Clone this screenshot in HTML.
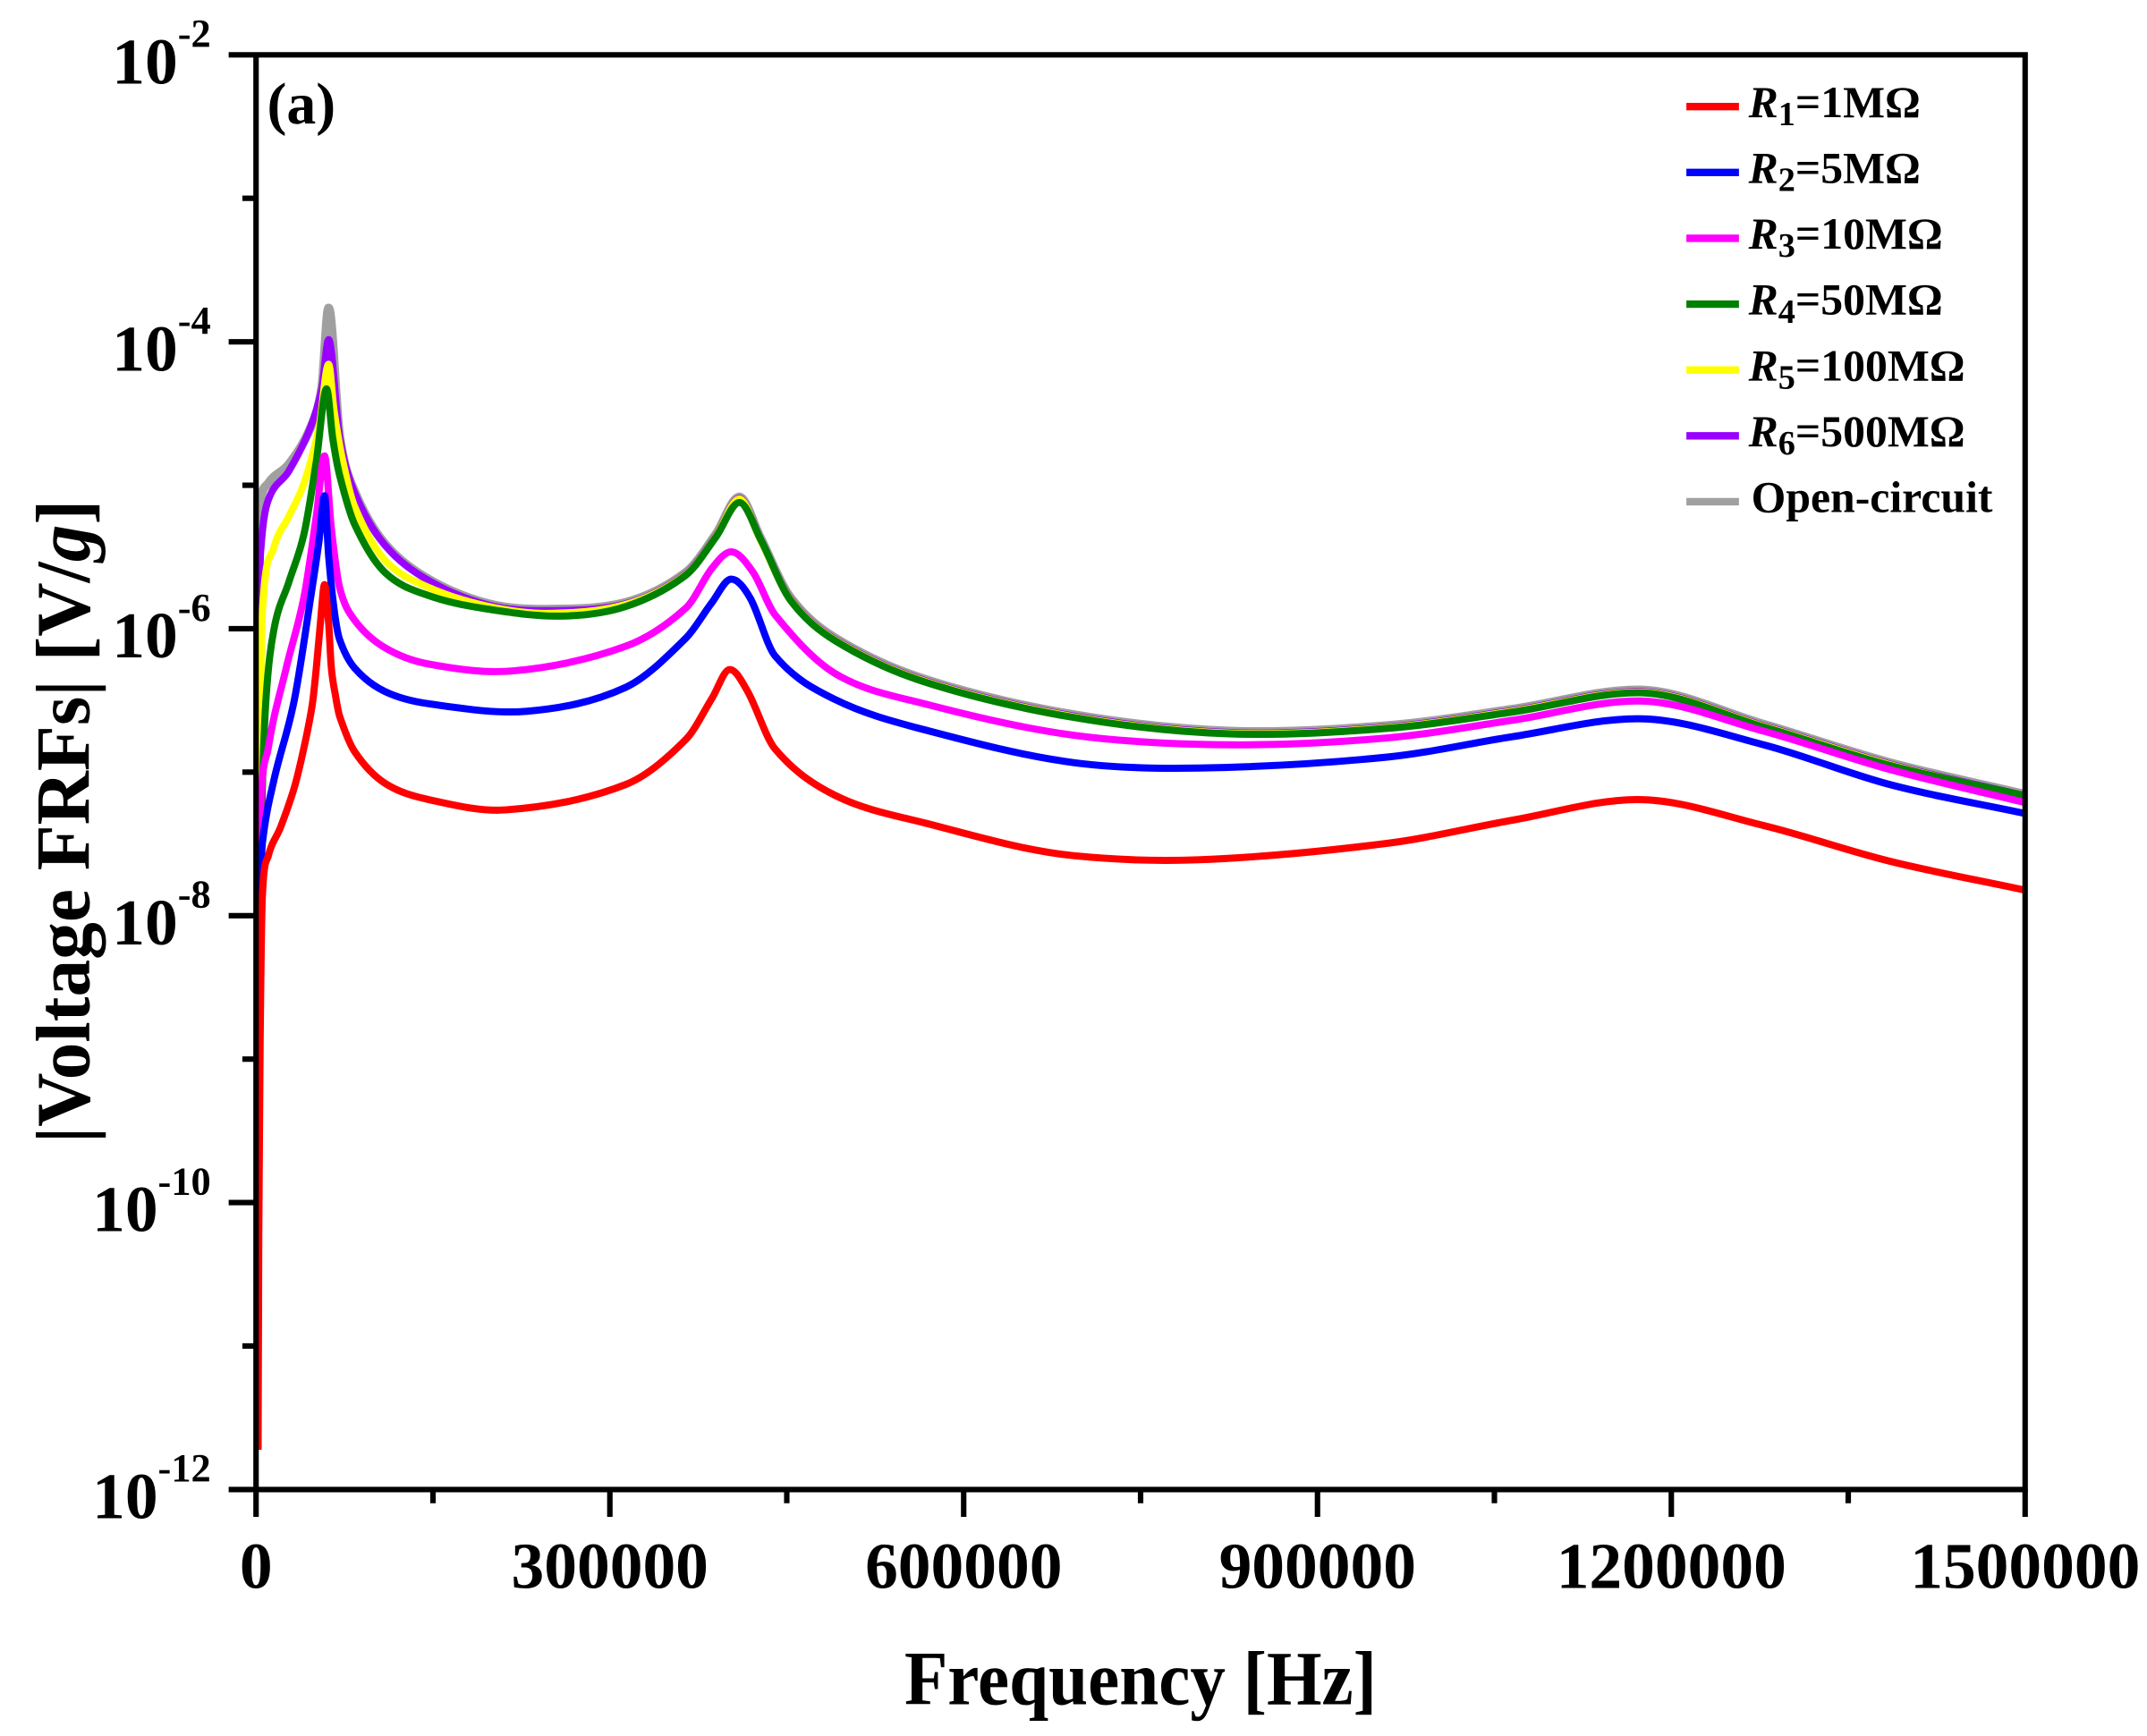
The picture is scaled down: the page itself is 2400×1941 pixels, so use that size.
<!DOCTYPE html>
<html><head><meta charset="utf-8"><style>
html,body{margin:0;padding:0;background:#fff;}
svg{display:block;}
text{font-family:"Liberation Serif",serif;font-weight:bold;fill:#000;}
</style></head><body>
<svg id="s" width="2400" height="1941" viewBox="0 0 1568 1268" xmlns="http://www.w3.org/2000/svg">
<rect width="1568" height="1268" fill="#fff"/>
<g id="curves" fill="none" stroke-linejoin="round" stroke-linecap="butt"></g>
<g stroke="#000" stroke-width="4" fill="none">
<path d="M167,40 H1479 V1088 H187 V40"/>
<path d="M167,249.6H187 M167,459.2H187 M167,668.8H187 M167,878.4H187 M167,1088H187"/>
<path d="M177,144.8H187 M177,354.4H187 M177,564H187 M177,773.6H187 M177,983.2H187"/>
<path d="M187,1088V1108 M445.4,1088V1108 M703.8,1088V1108 M962.2,1088V1108 M1220.6,1088V1108 M1479,1088V1108"/>
<path d="M316.2,1088V1098 M574.6,1088V1098 M833,1088V1098 M1091.4,1088V1098 M1349.8,1088V1098"/>
</g>
<g font-size="48" text-anchor="end">
<text x="154" y="61">10<tspan dy="-27" font-size="29">-2</tspan></text>
<text x="154" y="270.6">10<tspan dy="-27" font-size="29">-4</tspan></text>
<text x="154" y="480.2">10<tspan dy="-27" font-size="29">-6</tspan></text>
<text x="154" y="689.8">10<tspan dy="-27" font-size="29">-8</tspan></text>
<text x="154" y="899.4">10<tspan dy="-27" font-size="29">-10</tspan></text>
<text x="154" y="1109">10<tspan dy="-27" font-size="29">-12</tspan></text>
</g>
<g font-size="48" text-anchor="middle">
<text x="187" y="1160">0</text>
<text x="445.4" y="1160">300000</text>
<text x="703.8" y="1160">600000</text>
<text x="962.2" y="1160">900000</text>
<text x="1220.6" y="1160">1200000</text>
<text x="1479" y="1160">1500000</text>
</g>
<text x="833" y="1245" font-size="56" text-anchor="middle" textLength="345" lengthAdjust="spacingAndGlyphs">Frequency [Hz]</text>
<text transform="translate(65,600) rotate(-90)" font-size="56" text-anchor="middle" textLength="470" lengthAdjust="spacingAndGlyphs">|Voltage FRFs| [V/<tspan font-style="italic">g</tspan>]</text>
<text x="195" y="90" font-size="43">(a)</text>
<g stroke-width="5.5">
<line x1="1231.6" x2="1270" y1="77.8" y2="77.8" stroke="#ff0000"/>
<line x1="1231.6" x2="1270" y1="125.9" y2="125.9" stroke="#0000ff"/>
<line x1="1231.6" x2="1270" y1="174" y2="174" stroke="#ff00ff"/>
<line x1="1231.6" x2="1270" y1="222.1" y2="222.1" stroke="#008000"/>
<line x1="1231.6" x2="1270" y1="270.2" y2="270.2" stroke="#ffff00"/>
<line x1="1231.6" x2="1270" y1="318.3" y2="318.3" stroke="#9900ff"/>
<line x1="1231.6" x2="1270" y1="366.4" y2="366.4" stroke="#a0a0a0"/>
</g>
<g font-size="32.5">
<text x="1277" y="85.4"><tspan font-style="italic">R</tspan><tspan font-size="25" dy="6">1</tspan><tspan dy="-6">=1MΩ</tspan></text>
<text x="1277" y="133.5"><tspan font-style="italic">R</tspan><tspan font-size="25" dy="6">2</tspan><tspan dy="-6">=5MΩ</tspan></text>
<text x="1277" y="181.6"><tspan font-style="italic">R</tspan><tspan font-size="25" dy="6">3</tspan><tspan dy="-6">=10MΩ</tspan></text>
<text x="1277" y="229.7"><tspan font-style="italic">R</tspan><tspan font-size="25" dy="6">4</tspan><tspan dy="-6">=50MΩ</tspan></text>
<text x="1277" y="277.8"><tspan font-style="italic">R</tspan><tspan font-size="25" dy="6">5</tspan><tspan dy="-6">=100MΩ</tspan></text>
<text x="1277" y="325.9"><tspan font-style="italic">R</tspan><tspan font-size="25" dy="6">6</tspan><tspan dy="-6">=500MΩ</tspan></text>
<text x="1279" y="374">Open-circuit</text>
</g>
</svg>
<script>
var gray=[[188.5,744],[188.6,420],[189.5,372],[196,353],[211,339],[226.5,313],[235,283],[240,225],[248,318],[259,359],[281,397],[313,423],[357,441],[400,445],[457,440],[501,418],[523,390],[540,363],[555,392],[577,436],[610,466],[675,496],[784,522],[898,534],[1013,530],[1105,518],[1196,504],[1288,529],[1380,557],[1478,580]];
function tail(from,off){return gray.filter(function(p){return p[0]>=from;}).map(function(p){return [p[0],p[1]+off];});}
var purple=[[188.5,776],[189.5,450],[190.6,400],[196,365],[211,344],[226,314],[235,284],[240,248]].concat(tail(248,1));
var yellow=[[188.5,849],[189.5,600],[191.6,447],[200,400],[211,377],[222,353],[233,312],[240,266],[244,300],[250,335],[259,370],[281,409],[313,429],[357,443],[400,448]].concat(tail(457,1.5));
var green=[[188.5,880],[189.5,700],[190.6,616],[193.8,518],[200,460],[211,425],[222,390],[231,337],[238.5,284],[243,320],[248,347],[259,383],[281,418],[313,435],[357,445],[410,450],[457,443],[501,420],[523,392],[540,367],[556,395],[577,438],[610,468],[675,498],[784,524],[898,536],[1013,532],[1105,520],[1196,506],[1288,531],[1380,559],[1478,581]];
var magenta=[[188.5,956],[189,760],[189.5,610],[196,546],[209,488],[222,436],[231,377],[237,333],[242,386],[248,429],[259,453],[281,473],[313,485],[375,490],[457,472],[501,444],[520,415],[534,403],[550,418],[566,449],[610,492],[675,514],[784,537],[898,544],[1013,539],[1105,526],[1196,512],[1288,534],[1380,562],[1478,586]];
var blue=[[188.5,987],[189.5,750],[190.5,650],[191.6,616],[200,570],[215,511],[228,429],[233,395],[237,362],[240,406],[244,445],[248,467],[259,488],[281,505],[313,514],[385,519.5],[457,502],[501,466],[520,440],[534,423],[548,437],[566,479],[610,511],[675,533],[784,557],[875,561],[1013,553],[1105,538],[1196,525],[1288,544],[1380,573],[1478,594]];
var red=[[188.5,1059],[189,900],[190,760],[191.6,655],[196,625],[205,604],[215,575],[222,546],[228,515],[231,488],[234,455],[237,427],[240,455],[242,488],[245,508],[248,523],[259,549],[281,572],[313,584],[370,591.5],[457,573],[501,540],[520,510],[533,489],[546,505],[566,547],[610,581],[675,601],[784,625],[875,628],[1013,616],[1105,599],[1196,584],[1288,603],[1380,629],[1478,650]];
function path(p){
  var n=p.length,m=[];
  for(var i=0;i<n;i++){
    if(i==0){m.push((p[1][1]-p[0][1])/(p[1][0]-p[0][0]));}
    else if(i==n-1){m.push((p[i][1]-p[i-1][1])/(p[i][0]-p[i-1][0]));}
    else{
      var s0=(p[i][1]-p[i-1][1])/(p[i][0]-p[i-1][0]),s1=(p[i+1][1]-p[i][1])/(p[i+1][0]-p[i][0]);
      if(s0<0&&s1>0){ m.push(0); } // sharp peak (screen-y minimum)
      else if(s0*s1<=0){ m.push((p[i+1][1]-p[i-1][1])/(p[i+1][0]-p[i-1][0])); }
      else{ var c=(p[i+1][1]-p[i-1][1])/(p[i+1][0]-p[i-1][0]); var lim=3*Math.min(Math.abs(s0),Math.abs(s1)); if(Math.abs(c)>lim) c=lim*Math.sign(c); m.push(c); }
    }
  }
  var d="M"+p[0][0]+","+p[0][1];
  for(var i=0;i<n-1;i++){
    var dx=p[i+1][0]-p[i][0];
    var c1x=p[i][0]+dx/3,c1y=p[i][1]+m[i]*dx/3,c2x=p[i+1][0]-dx/3,c2y=p[i+1][1]-m[i+1]*dx/3;
    d+=" C"+c1x.toFixed(2)+","+c1y.toFixed(2)+" "+c2x.toFixed(2)+","+c2y.toFixed(2)+" "+p[i+1][0]+","+p[i+1][1];
  }
  return d;
}
var g=document.getElementById("curves");
[[gray,"#a0a0a0",6.5],[purple,"#9900ff",5.2],[yellow,"#ffff00",5.2],[green,"#008000",5.2],[magenta,"#ff00ff",5.2],[blue,"#0000ff",5.2],[red,"#ff0000",5.2]].forEach(function(s){var e=document.createElementNS("http://www.w3.org/2000/svg","path");e.setAttribute("d",path(s[0]));e.setAttribute("stroke",s[1]);e.setAttribute("stroke-width",s[2]);g.appendChild(e);});
</script>
</body></html>
